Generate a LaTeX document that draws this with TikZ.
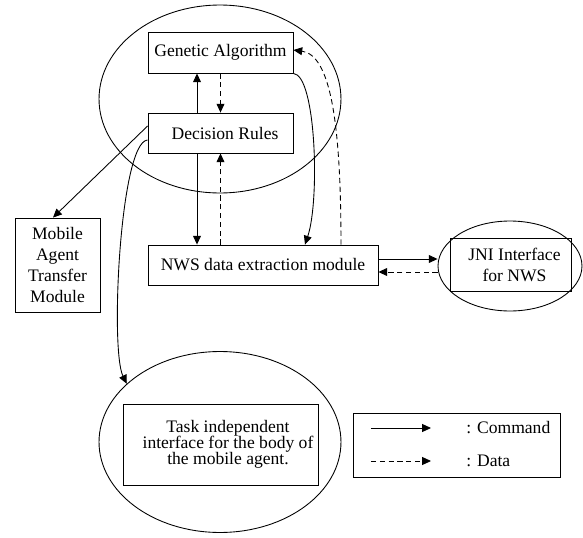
\documentclass[tikz,border=0pt]{standalone}
\usepackage{fontspec}
\setmainfont{Liberation Serif}
\usetikzlibrary{shapes.geometric,arrows.meta,calc}

\tikzset{
	box/.style={draw, line width=0.5pt, align=center, inner sep=1pt, font=\fontsize{10}{12}\selectfont},
	oval/.style={draw, ellipse, line width=0.5pt, inner sep=0pt},
	cmd/.style={line width=0.5pt, -{Triangle[length=5pt,width=4.5pt]}},
	dat/.style={cmd, dash pattern=on 3pt off 2pt},
}

\begin{document}
\begin{tikzpicture}[x=0.02cm, y=-0.02cm]
	\useasboundingbox (0,0) rectangle (583,538);
	\node[oval, minimum width=4.84cm, minimum height=3.76cm] (topell) at (220,99) {};
	\node[oval, minimum width=2.88cm, minimum height=1.8cm] (jniell) at (510,266) {};
	\node[oval, minimum width=4.84cm, minimum height=3.62cm] (taskell) at (220,442) {};
	\node[box, minimum width=2.9cm, minimum height=0.82cm] (ga) at (220.5,52.5) {Genetic Algorithm};
	\node[box, minimum width=2.9cm, minimum height=0.8cm] (dr) at (220.5,133) {\hspace*{0.18cm}Decision Rules};
	\node[box, minimum width=4.6cm, minimum height=0.8cm] (nws) at (263,265) {NWS data extraction module};
	\node[box, minimum width=1.7cm, minimum height=1.88cm] (matm) at (57.5,265) {Mobile\\Agent\\Transfer\\Module};
	\node[box, minimum width=2.42cm, minimum height=1.06cm] (jni) at (510.5,264.5) {\hspace*{0.16cm}JNI Interface\\\hspace*{0.16cm}for NWS};
	\node[box, minimum width=3.9cm, minimum height=1.62cm, font=\fontsize{10}{9.2}\selectfont] (task) at (220.5,444.5) {\hspace*{0.3cm}Task independent\\\hspace*{0.3cm}interface for the body of\\\hspace*{0.3cm}the mobile agent.};
	\node[box, minimum width=4.14cm, minimum height=1.28cm] (legend) at (456.5,445) {};

	\draw[cmd] ([xshift=-0.47cm]dr.north) -- ([xshift=-0.47cm]ga.south);
	\draw[dat] (ga.south) -- (dr.north);
	\draw[cmd] ([xshift=-0.47cm]dr.south) -- ([xshift=-0.47cm]dr.south |- nws.north);
	\draw[dat] (dr.south |- nws.north) -- (dr.south);
	\draw[cmd] ([yshift=0.14cm]dr.west) -- ([xshift=-0.09cm]matm.north);
	\draw[cmd] ([yshift=-0.14cm]dr.west) .. controls (120,142) and (110,350) .. (taskell.148);
	\draw[cmd] (ga.south east) .. controls (316,75) and (320,200) .. ([xshift=0.84cm]nws.north);
	\draw[dat] ([xshift=1.56cm]nws.north) .. controls (341,120) and (330,55) .. ([yshift=0.05cm]ga.east);
	\draw[cmd] ([yshift=0.12cm]nws.east) -- ([yshift=0.12cm]nws.east -| jniell.west);
	\draw[dat] ([yshift=-0.14cm]nws.east -| jniell.west) -- ([yshift=-0.14cm]nws.east);

	\coordinate (cmdA) at (371,428);
	\coordinate (cmdB) at (431,428);
	\coordinate (datA) at (371,461);
	\coordinate (datB) at (431,461);
	\draw[cmd] (cmdA) -- (cmdB);
	\draw[dat] (datA) -- (datB);
	\node[anchor=west, inner sep=0pt] (cmdtext) at (466,428) {: Command};
	\node[anchor=west, inner sep=0pt] (dattext) at (466,461) {: Data};
\end{tikzpicture}
\end{document}
